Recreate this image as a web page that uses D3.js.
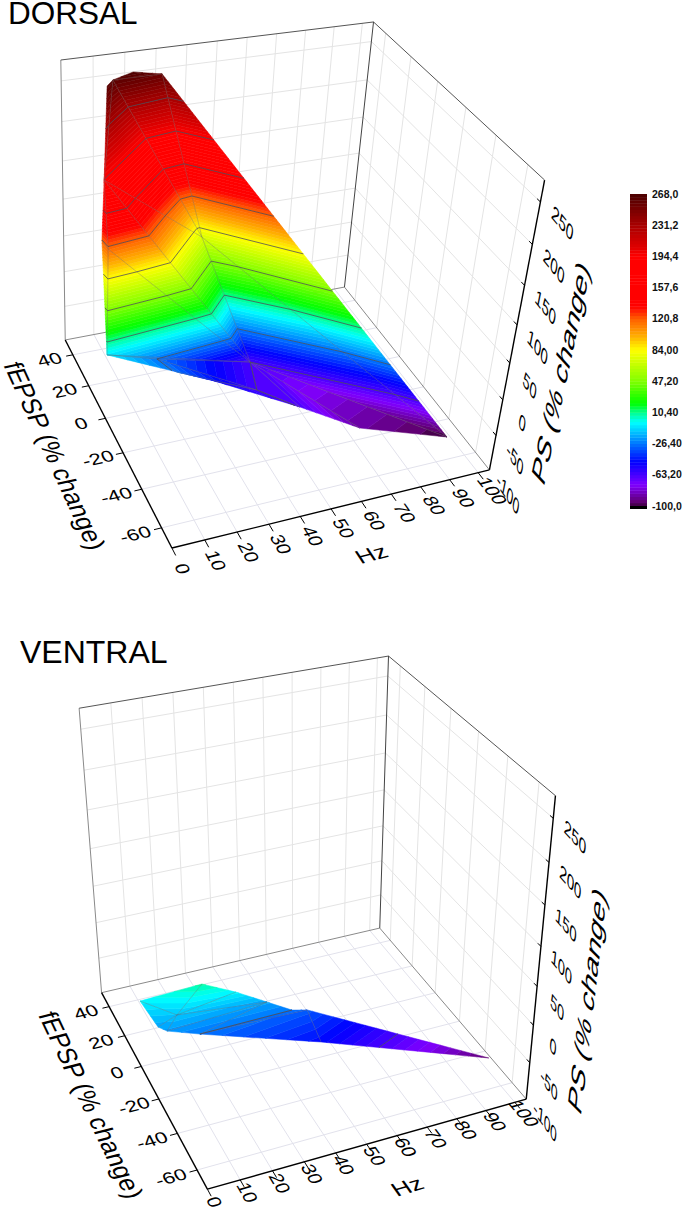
<!DOCTYPE html>
<html>
<head>
<title>Dorsal / ventral PS surface</title>
<script src="https://d3js.org/d3.v7.min.js"></script>
<style>
body { margin: 0; background: #fff; }
svg { display: block; font-family: "Liberation Sans", Arial, sans-serif; }
</style>
</head>
<body>
<svg width="685" height="1208"></svg>
<script>
var hzTicks = [0,10,20,30,40,50,60,70,80,90,100];
var fepspTicks = [40,20,0,-20,-40,-60];
var psTicks = [250,200,150,100,50,0,-50,-100];
var hzDomain = [0,104], fepspDomain = [-70,50], psDomain = [-100,275];
var contourLevels = [-63.2,-26.4,10.4,47.2,84,120.8,157.6,194.4,231.2];
var legendValues = [268,231.2,194.4,157.6,120.8,84,47.2,10.4,-26.4,-63.2,-100];
var legendLabels = ["268,0","231,2","194,4","157,6","120,8","84,00","47,20","10,40","-26,40","-63,20","-100,0"];

// surface vertices
var dorsalHz = [10,13,19.4,29.4,2.4,38.4,48.9,99,2.2,-0.1,16.3,20.1,45.4,55,72.5,1.6,32.4];
var dorsalFepsp = [34.4,38.7,39,41.5,10.5,23.7,0.8,-49.1,5.3,-2,-1.2,-9.9,-15.4,-29,-38.4,10,-10.5];
var dorsalPs = [263,262,268,257,194,73,-63.2,-100,118,-5,-26.4,-28,-63.2,-64,-88,120.8,-50];
var dorsalTri = [[0,1,4],[1,2,3],[1,3,5],[1,5,4],[3,5,7],[5,6,7],[4,5,6],[4,6,8],[4,8,15],[15,8,9],[8,6,9],[9,6,10],[9,10,11],[10,6,12],[10,12,11],[11,12,16],[16,12,13],[12,6,13],[13,6,14],[14,6,7]];

var ventralHz = [0.1,19.2,28.8,37.8,44.6,49.8,9.2,2.6,4.7,14.1,49.5,102.4];
var ventralFepsp = [-3.4,-6.8,-11.3,-14.8,-19.3,-19,-12.4,-14,-16.6,-20,-32.4,-46];
var ventralPs = [-3,8,-3,-18,-26.4,-32,-12,-18,-20,-26.4,-47,-95];
var ventralTri = [[0,1,6],[1,2,6],[0,6,7],[7,6,8],[2,3,6],[6,3,8],[3,9,8],[3,4,9],[4,5,9],[5,10,9],[5,11,10]];

var colorStops = [-100,-95,-75,-48,-1.4,10.4,21,47.2,84,100,120.8,135,194.4,205,231.2,250,268];
var colorRange = ["#3a003a","#600070","#8000ff","#0000ff","#00ffff","#00ff90","#00ff00","#80ff00","#ffff00","#ffb000","#ff6000","#ff0000","#ff0000","#e00000","#a80000","#780000","#4a0000"];
var color = d3.scaleLinear().domain(colorStops).range(colorRange);
var bandStep = 3.68;

var svg = d3.select("svg");
var lineGen = d3.line();

// least squares 3x4 camera from box corners given in normalised coords
function fitCamera(pts) {
    var A = [], b = [];
    pts.forEach(function(p) {
        var u = p[0], v = p[1], w = p[2], x = p[3], y = p[4];
        A.push([u,v,w,1,0,0,0,0,-x*u,-x*v,-x*w]); b.push(x);
        A.push([0,0,0,0,u,v,w,1,-y*u,-y*v,-y*w]); b.push(y);
    });
    var n = 11, M = [];
    for (var i = 0; i < n; i++) {
        M.push([]);
        for (var j = 0; j < n; j++) M[i].push(d3.sum(A, function(r) { return r[i]*r[j]; }));
        M[i].push(d3.sum(A, function(r, k) { return r[i]*b[k]; }));
    }
    for (i = 0; i < n; i++) {
        var piv = i;
        for (j = i+1; j < n; j++) if (Math.abs(M[j][i]) > Math.abs(M[piv][i])) piv = j;
        var t = M[i]; M[i] = M[piv]; M[piv] = t;
        for (j = 0; j < n; j++) {
            if (j == i) continue;
            var f = M[j][i]/M[i][i];
            for (var k = i; k <= n; k++) M[j][k] -= f*M[i][k];
        }
    }
    return M.map(function(r, i) { return r[n]/r[i]; });
}

function makeProjection(c) {
    var hzS = d3.scaleLinear().domain(hzDomain).range([0,1]);
    var fS = d3.scaleLinear().domain(fepspDomain).range([0,1]);
    var pS = d3.scaleLinear().domain(psDomain).range([0,1]);
    var P = fitCamera([[0,0,0].concat(c.front),[1,0,0].concat(c.right),[0,1,0].concat(c.left),[1,1,0].concat(c.back),
        [0,1,1].concat(c.leftTop),[1,1,1].concat(c.backTop),[1,0,1].concat(c.rightTop)]);
    return function(hz, fe, ps) {
        var u = hzS(hz), v = fS(fe), w = pS(ps);
        var d = P[8]*u + P[9]*v + P[10]*w + 1;
        return [(P[0]*u+P[1]*v+P[2]*w+P[3])/d, (P[4]*u+P[5]*v+P[6]*w+P[7])/d];
    };
}

function drawPanel(c, hz, fe, ps, tris) {
    var g = svg.append("g");
    var pr = makeProjection(c);
    var h0 = hzDomain[0], h1 = hzDomain[1], f0 = fepspDomain[0], f1 = fepspDomain[1], p0 = psDomain[0], p1 = psDomain[1];
    function seg(a, b, col, w) {
        g.append("path").attr("d", lineGen([pr(a[0],a[1],a[2]), pr(b[0],b[1],b[2])]))
            .attr("fill","none").attr("stroke",col).attr("stroke-width",w);
    }

    // grid
    hzTicks.slice(1).forEach(function(h) {
        seg([h,f0,p0],[h,f1,p0], "#e2e2ec", 1);
        seg([h,f1,p0],[h,f1,p1], "#e4e4e4", 1);
    });
    fepspTicks.forEach(function(f) {
        seg([h0,f,p0],[h1,f,p0], "#e2e2ec", 1);
        seg([h1,f,p0],[h1,f,p1], "#e4e4e4", 1);
    });
    psTicks.slice(0,-1).forEach(function(p) {
        seg([h0,f1,p],[h1,f1,p], "#e4e4e4", 1);
        seg([h1,f1,p],[h1,f0,p], "#e4e4e4", 1);
    });
    // box
    seg([h0,f1,p0],[h0,f1,p1], "#8a8a8a", 1);
    seg([h0,f1,p0],[h1,f1,p0], "#8a8a8a", 1);
    seg([h1,f1,p0],[h1,f0,p0], "#8a8a8a", 1);
    seg([h0,f1,p1],[h1,f1,p1], "#555", 1);
    seg([h1,f1,p1],[h1,f0,p1], "#555", 1);
    seg([h1,f1,p0],[h1,f1,p1], "#444", 1);

    // surface, one polygon per colour band of each triangle
    function clip(poly, level, keepAbove) {
        var out = [];
        poly.forEach(function(a, i) {
            var b = poly[(i+1)%poly.length];
            var ai = keepAbove ? a[2] >= level : a[2] <= level;
            var bi = keepAbove ? b[2] >= level : b[2] <= level;
            if (ai) out.push(a);
            if (ai != bi) {
                var t = (level-a[2])/(b[2]-a[2]);
                out.push([a[0]+t*(b[0]-a[0]), a[1]+t*(b[1]-a[1]), level]);
            }
        });
        return out;
    }
    var surf = g.append("g");
    tris.forEach(function(t) {
        var tri = t.map(function(i) { return [hz[i], fe[i], ps[i]]; });
        for (var lo = -100; lo < 268; lo += bandStep) {
            var poly = clip(clip(tri, lo, true), lo+bandStep, false);
            if (poly.length < 3) continue;
            var col = color(lo+bandStep/2);
            surf.append("path")
                .attr("d", lineGen(poly.map(function(q) { return pr(q[0],q[1],q[2]); }))+"Z")
                .attr("fill", col).attr("stroke", col).attr("stroke-width", 0.5);
        }
    });
    // inner mesh edges only
    var edgeCount = {};
    tris.forEach(function(t) {
        t.forEach(function(i, n) {
            var j = t[(n+1)%3], key = Math.min(i,j)+"-"+Math.max(i,j);
            edgeCount[key] = (edgeCount[key] || 0) + 1;
        });
    });
    Object.keys(edgeCount).forEach(function(key) {
        if (edgeCount[key] < 2) return;
        var e = key.split("-").map(Number);
        surf.append("path")
            .attr("d", lineGen(e.map(function(i) { return pr(hz[i],fe[i],ps[i]); })))
            .attr("fill","none").attr("stroke","#6a6a6a").attr("stroke-opacity",0.7).attr("stroke-width",0.5);
    });
    // contours
    contourLevels.forEach(function(level) {
        tris.forEach(function(t) {
            var pts = [];
            t.forEach(function(i, n) {
                var j = t[(n+1)%3];
                if ((ps[i] >= level) != (ps[j] >= level)) {
                    var k = (level-ps[i])/(ps[j]-ps[i]);
                    pts.push(pr(hz[i]+k*(hz[j]-hz[i]), fe[i]+k*(fe[j]-fe[i]), level));
                }
            });
            if (pts.length == 2) {
                surf.append("path").attr("d", lineGen(pts)).attr("fill","none")
                    .attr("stroke","#4a4a55").attr("stroke-opacity",0.85).attr("stroke-width",0.9);
            }
        });
    });

    // axes
    seg([h0,f1,p0],[h0,f0,p0], "#000", 1.4);
    seg([h0,f0,p0],[h1,f0,p0], "#000", 1.4);
    seg([h1,f0,p0],[h1,f0,p1], "#000", 1.4);
    hzTicks.forEach(function(h) { seg([h,f0,p0],[h,f0-3.6,p0], "#000", 1); });
    fepspTicks.forEach(function(f) { seg([h0,f,p0],[h0-2.3,f,p0], "#000", 1); });
    psTicks.slice(0,-1).forEach(function(p) { seg([h1,f0,p],[h1,f0+2,p], "#000", 1); });

    // text lying in the planes of the box
    function text3d(str, pos, along, down, fontSize, sx, sy) {
        var o = pr(pos[0],pos[1],pos[2]);
        var a = pr(pos[0]+along[0],pos[1]+along[1],pos[2]+along[2]);
        var d = pr(pos[0]+down[0],pos[1]+down[1],pos[2]+down[2]);
        var al = Math.hypot(a[0]-o[0],a[1]-o[1]), dl = Math.hypot(d[0]-o[0],d[1]-o[1]);
        var m = [sx*(a[0]-o[0])/al, sx*(a[1]-o[1])/al, sy*(d[0]-o[0])/dl, sy*(d[1]-o[1])/dl, o[0], o[1]];
        g.append("text").attr("transform","matrix("+m.join(" ")+")")
            .attr("text-anchor","middle").attr("dy","0.35em").attr("font-size",fontSize).attr("fill","#000").text(str);
    }
    hzTicks.forEach(function(h) { text3d(String(h), [h,f0-c.hzLabelOff,p0], [0,-1,0], [-1,0,0], 17, 1.15, 1.1); });
    fepspTicks.forEach(function(f) { text3d(String(f), [h0-8,f,p0], [1,0,0], [0,-1,0], 16, 1.35, 1.05); });
    psTicks.forEach(function(p) { text3d(String(p), [h1,f0-13,p], [0,-1,-0.4], [0,0,-1], 17, 1.15, 1.15); });
    text3d("Hz", [53,f0-24,p0], [1,0,0], [0,-1,0], 19, 1.3, 1.1);
    text3d("fEPSP (% change)", [h0-20,-14,p0], [0,-1,0], [-1,0,0], 24, 1.03, 1.1);
    text3d("PS (% change)", [h1,f0-c.psTitleOff,c.psTitlePs], [0,0,1], [0,-1,0], 28, 1.18, 0.95);
    g.append("text").attr("x", c.titleX).attr("y", c.titleY).attr("font-size", c.titleSize).text(c.title);
}

var dorsal = {title:"DORSAL", titleX:8, titleY:24, titleSize:31.5, hzLabelOff:10, psTitleOff:27, psTitlePs:100, front:[172,548], right:[489,470], left:[65,340], back:[345,287], leftTop:[61,60], backTop:[373,22], rightTop:[545,180]};
var ventral = {title:"VENTRAL", titleX:20, titleY:663, titleSize:32, hzLabelOff:6.5, psTitleOff:29, psTitlePs:92, front:[207,1189], right:[527,1099], left:[102,993], back:[379,928], leftTop:[79,708], backTop:[389,656], rightTop:[555,796]};

drawPanel(dorsal, dorsalHz, dorsalFepsp, dorsalPs, dorsalTri);
drawPanel(ventral, ventralHz, ventralFepsp, ventralPs, ventralTri);

// legend
var legendY = d3.scaleLinear().domain([-100,268]).range([506,194]);
var legend = svg.append("g");
for (var lo = -100; lo < 268; lo += bandStep) {
    legend.append("rect").attr("x",630).attr("width",17)
        .attr("y",legendY(lo+bandStep)).attr("height",legendY(lo)-legendY(lo+bandStep)+0.4)
        .attr("fill",color(lo+bandStep/2));
}
legend.append("rect").attr("x",630).attr("width",17).attr("y",506).attr("height",3).attr("fill","#000");
legendValues.forEach(function(v,i) {
    legend.append("text").attr("x",652).attr("y",legendY(v)).attr("dy","0.35em")
        .attr("font-size",10.5).attr("font-weight","bold").attr("fill","#111").text(legendLabels[i]);
});
</script>
</body>
</html>
